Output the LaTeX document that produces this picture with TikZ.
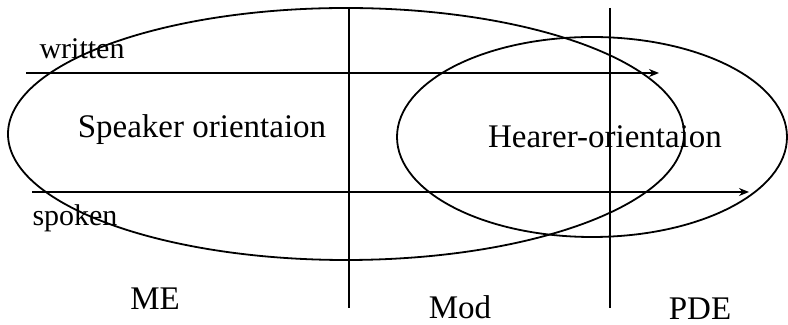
\documentclass[tikz,border=0pt]{standalone}
\usepackage{fontspec}
\setmainfont{Liberation Serif}
\usepackage{tikz}
\usetikzlibrary{arrows.meta,positioning}

\begin{document}
\begin{tikzpicture}[
    x=0.5pt, y=-0.5pt,
    label/.style={anchor=base, inner sep=0pt, font=\fontsize{16.5}{19}\selectfont},
    smalllabel/.style={anchor=base, inner sep=0pt, font=\fontsize{15}{18}\selectfont},
    arrow/.style={-{Stealth[length=5pt,width=4pt]}, line width=0.75pt},
    divider/.style={line width=1.2pt},
    oval/.style={line width=0.9pt}
]
\useasboundingbox (0,0) rectangle (788,325);
% the two orientations
\draw[oval] (346,134) ellipse [x radius=169pt, y radius=63pt];
\draw[oval] (592,137) ellipse [x radius=97.5pt, y radius=50pt];
% period boundaries
\coordinate (meTop) at (349,7);
\coordinate (meBot) at (349,308);
\coordinate (pdeTop) at (610,8);
\coordinate (pdeBot) at (610,308);
\draw[divider] (meTop) -- (meBot);
\draw[divider] (pdeTop) -- (pdeBot);
% written / spoken arrows
\coordinate (writtenStart) at (26,73);
\coordinate (writtenEnd) at (659,73);
\coordinate (spokenStart) at (32,192);
\coordinate (spokenEnd) at (749,192);
\draw[arrow] (writtenStart) -- (writtenEnd);
\draw[arrow] (spokenStart) -- (spokenEnd);
% labels
\node[smalllabel] (written) at (82,59) {written};
\node[smalllabel] (spoken) at (75,226) {spoken};
\node[label] (speaker) at (202,138) {Speaker orientaion};
\node[label] (hearer) at (605,148) {Hearer-orientaion};
\node[label] (me) at (155,310) {ME};
\node[label] (mod) at (460,319) {Mod};
\node[label] (pde) at (700,320) {PDE};
\end{tikzpicture}
\end{document}
